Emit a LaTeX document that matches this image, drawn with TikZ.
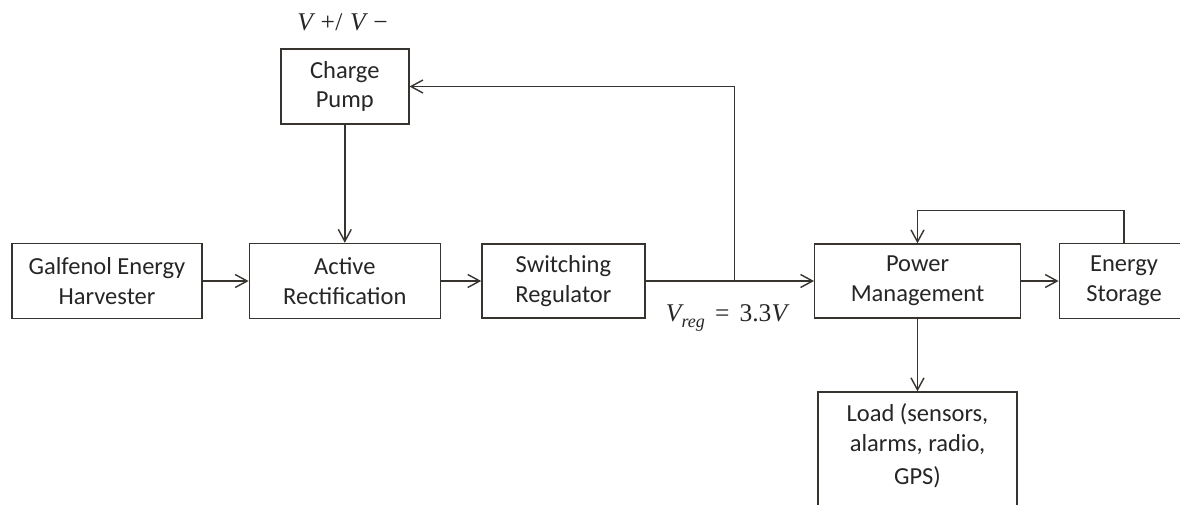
\documentclass[tikz,border=0pt]{standalone}
\usepackage{fontspec}
\setmainfont{Carlito}
\newfontfamily\lsf{Liberation Serif}
\usetikzlibrary{arrows.meta}
\definecolor{ln}{RGB}{55,52,47}
\definecolor{tx}{RGB}{38,38,38}
\begin{document}
\begin{tikzpicture}[x=1pt,y=-1pt,
  blk/.style={draw=ln, line width=1.4pt, text=tx, align=center, inner sep=0pt,
    font=\fontsize{24.5}{29.7}\selectfont},
  conn/.style={draw=ln, line width=1.4pt,
    -{Straight Barb[length=12pt,width=13pt,line width=1.4pt]}},
  lbl/.style={text=tx, inner sep=0pt, font=\lsf\fontsize{25.5}{30}\selectfont}]
\clip (0,0) rectangle (1180,504);
\fill[white] (0,0) rectangle (1180,504);
% blocks
\node[blk, minimum width=190pt, minimum height=75pt] (gal) at (107,281) {Galfenol Energy\\Harvester};
\node[blk, minimum width=191pt, minimum height=75pt] (act) at (344.8,281) {Active\\Rectification};
\node[blk, minimum width=163pt, minimum height=74pt] (sw) at (563.4,281) {Switching\\Regulator};
\node[blk, minimum width=205.6pt, minimum height=74pt] (pm) at (917.5,281) {Power\\Management};
\node[blk, minimum width=129.4pt, minimum height=75pt] (es) at (1124,281) {Energy\\Storage};
\node[blk, minimum width=128pt, minimum height=75pt] (cp) at (344.8,86.5) {Charge\\Pump};
\node[blk, anchor=north, minimum width=199pt, inner ysep=12pt] (load) at (917.5,391.3)
  {Load (sensors,\\alarms, radio,\\[3.5pt]GPS)\rule[-30pt]{0pt}{30pt}};
% labels
\node[lbl, anchor=base] (vpm) at (342.5,30)
  {\itshape V\hspace{0.3em}\upshape+\hspace{0.02em}/\hspace{0.3em}\itshape V\hspace{0.3em}\upshape −};
\node[lbl, anchor=base] (vreg) at (726.5,321.7)
  {\itshape V\raisebox{-6pt}{\fontsize{18}{18}\selectfont reg}\hspace{0.4em}\upshape =\hspace{0.4em}3.3\itshape V};
% connectors
\coordinate (j) at (734.5,281);
\draw[conn] (gal.east) -- (act.west);
\draw[conn] (act.east) -- (sw.west);
\draw[conn] (sw.east) -- (pm.west);
\draw[conn] (j) |- (cp.east);
\draw[conn] (cp.south) -- (act.north);
\draw[conn] (pm.east) -- (es.west);
\draw[conn] (es.north) -- ++(0,-32.2) -| (pm.north);
\draw[conn] (pm.south) -- (load.north);
\end{tikzpicture}
\end{document}
